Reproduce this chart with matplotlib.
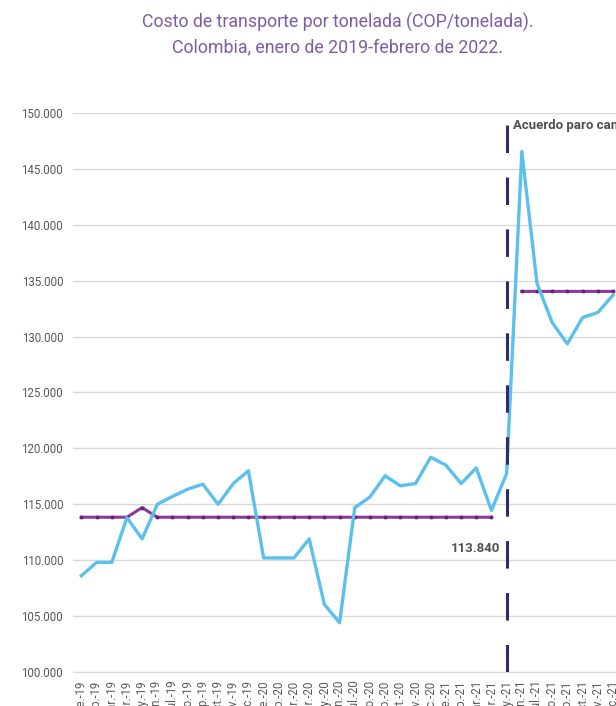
import numpy as np
import matplotlib.pyplot as plt
from matplotlib.ticker import FuncFormatter

meses = ["ene.-19", "feb.-19", "mar.-19", "abr.-19", "may.-19", "jun.-19",
         "jul.-19", "ago.-19", "sep.-19", "oct.-19", "nov.-19", "dic.-19",
         "ene.-20", "feb.-20", "mar.-20", "abr.-20", "may.-20", "jun.-20",
         "jul.-20", "ago.-20", "sep.-20", "oct.-20", "nov.-20", "dic.-20",
         "ene.-21", "feb.-21", "mar.-21", "abr.-21", "may.-21", "jun.-21",
         "jul.-21", "ago.-21", "sep.-21", "oct.-21", "nov.-21", "dic.-21"]

costo = [108600, 109800, 109800, 113800, 111900, 115000,
         115700, 116350, 116800, 115000, 116850, 118000,
         110200, 110200, 110200, 111900, 106050, 104400,
         114700, 115650, 117550, 116650, 116850, 119200,
         118500, 116850, 118250, 114450, 117750, 146550,
         134750, 131250, 129350, 131700, 132150, 133700]

promedio = [113840, 113840, 113840, 113840, 114700, 113840,
            113840, 113840, 113840, 113840, 113840, 113840,
            113840, 113840, 113840, 113840, 113840, 113840,
            113840, 113840, 113840, 113840, 113840, 113840,
            113840, 113840, 113840, 113840, np.nan, 134040,
            134040, 134040, 134040, 134040, 134040, 134040]

titulo = ["Costo de transporte por tonelada (COP/tonelada).",
          "Colombia, enero de 2019-febrero de 2022."]

x = np.arange(len(meses))

fig = plt.figure(figsize=(6.16, 7.06), dpi=100)
ax = fig.add_axes([0.1185, 0.0482, 0.8815, 0.7918])

ax.plot(x, promedio, color="#8B3A96", linewidth=2.2, marker="o", markersize=1.8,
        markerfacecolor="#6A2079", markeredgecolor="#6A2079", zorder=3)
ax.plot(x, costo, color="#5BC0EB", linewidth=2.4, zorder=4)

# linea vertical: acuerdo paro camionero
ax.axvline(28, color="#2E2C6B", linewidth=2.2, dashes=(9, 8), zorder=5)

ax.text(28.4, 148850, "Acuerdo paro camionero", fontsize=9.5, fontweight="bold",
        color="#505050", ha="left", va="center", family="Roboto")
ax.text(27.6, 111000, "113.840", fontsize=9.5, fontweight="bold",
        color="#505050", ha="right", va="center", family="Roboto")

ax.set_xlim(-0.55, 35.2)
ax.set_ylim(100000, 150000)
ax.set_yticks(np.arange(100000, 150001, 5000))
ax.yaxis.set_major_formatter(FuncFormatter(lambda v, p: f"{int(v):,}".replace(",", ".")))
ax.set_xticks(x)
ax.set_xticklabels(meses, rotation=90)

ax.grid(axis="y", color="#D9D9D9", linewidth=1)
ax.set_axisbelow(True)
for s in ["top", "right", "left"]:
    ax.spines[s].set_visible(False)
ax.spines["bottom"].set_color("#D9D9D9")
ax.tick_params(axis="both", length=0, labelsize=8.3, labelcolor="#595959")
ax.tick_params(axis="y", pad=7)
ax.tick_params(axis="x", pad=6)
for lab in ax.get_xticklabels() + ax.get_yticklabels():
    lab.set_family("Roboto")

fig.text(0.548, 0.9688, titulo[0], ha="center", va="center", fontsize=12.8,
         color="#7A5FA3", family="Roboto")
fig.text(0.548, 0.9334, titulo[1], ha="center", va="center", fontsize=12.8,
         color="#7A5FA3", family="Roboto")

fig.savefig("out.png", dpi=100)
